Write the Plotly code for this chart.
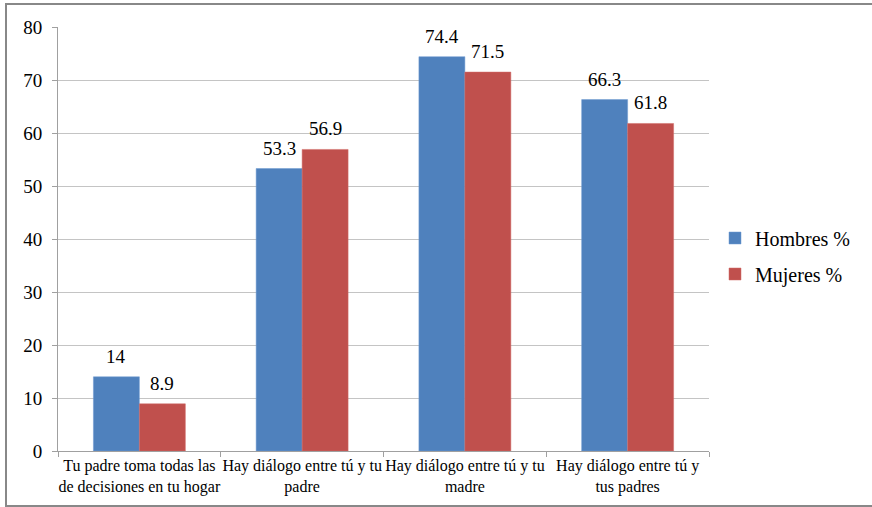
import plotly.graph_objects as go

categories = [
    "Tu padre toma todas las<br>de decisiones en tu hogar",
    "Hay diálogo entre tú y tu<br>padre",
    "Hay diálogo entre tú y tu<br>madre",
    "Hay diálogo entre tú y<br>tus padres",
]
hombres = [14, 53.3, 74.4, 66.3]
mujeres = [8.9, 56.9, 71.5, 61.8]
hombres_text = ["14", "53.3", "74.4", "66.3"]
mujeres_text = ["8.9", "56.9", "71.5", "61.8"]
y_ticks = [0, 10, 20, 30, 40, 50, 60, 70, 80]

FONT = "Liberation Serif"
W, H = 872, 507
L, R, T, B = 58, 163, 27, 56
pw, ph = W - L - R, H - T - B
BARGAP = 0.435
bar_px = pw / len(categories) * (1 - BARGAP) / 2

def px_x(px):
    return (px - L) / pw

def px_y(py):
    return (H - B - py) / ph

fig = go.Figure()
fig.add_trace(go.Bar(
    x=categories, y=hombres, name="Hombres %",
    marker=dict(color="#4F81BD", line=dict(color="#6f9bd0", width=0.5)),
    legendgroup="h",
))
fig.add_trace(go.Bar(
    x=categories, y=mujeres, name="Mujeres %",
    marker=dict(color="#C0504D", line=dict(color="#d06a67", width=0.5)),
    legendgroup="m",
))

annotations = []
for vals, texts, sgn in ((hombres, hombres_text, -1), (mujeres, mujeres_text, 1)):
    for c, v, t in zip(categories, vals, texts):
        annotations.append(dict(
            x=c, y=v, xref="x", yref="y", text=t, showarrow=False,
            xshift=sgn * bar_px / 2, yshift=8, yanchor="bottom",
            font=dict(family=FONT, size=19, color="black"),
        ))

fig.update_layout(
    width=W, height=H,
    margin=dict(l=L, r=R, t=T, b=B),
    paper_bgcolor="white", plot_bgcolor="white",
    barmode="group", bargap=BARGAP, bargroupgap=0,
    font=dict(family=FONT, color="black"),
    annotations=annotations,
    legend=dict(
        x=px_x(715), y=px_y(256), xanchor="left", yanchor="middle",
        font=dict(family=FONT, size=20, color="black"),
        tracegroupgap=7, itemwidth=30,
    ),
    yaxis=dict(
        range=[0, 80], tickvals=y_ticks,
        showgrid=True, gridcolor="#c4c4c4", gridwidth=1,
        showline=True, linecolor="#a0a0a0", linewidth=1,
        ticks="outside", ticklen=5, tickcolor="#a0a0a0",
        ticklabelstandoff=6,
        tickfont=dict(family=FONT, size=19, color="black"),
        zeroline=False,
    ),
    xaxis=dict(
        showline=True, linecolor="#a0a0a0", linewidth=1,
        ticks="outside", ticklen=5, tickcolor="#a0a0a0",
        tickson="boundaries", tickangle=0,
        tickfont=dict(family=FONT, size=16, color="black"),
    ),
    shapes=[dict(
        type="rect", xref="paper", yref="paper",
        x0=px_x(6), x1=px_x(874), y0=px_y(506), y1=px_y(4),
        line=dict(color="#888888", width=2), fillcolor="rgba(0,0,0,0)",
        layer="below",
    )],
)

fig.write_html("out.html")
